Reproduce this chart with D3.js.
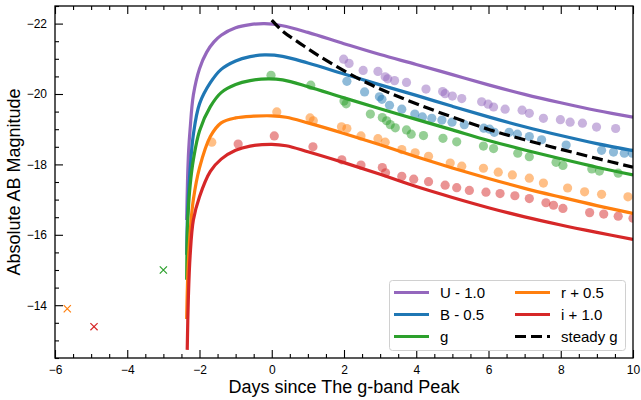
<!DOCTYPE html>
<html><head><meta charset="utf-8">
<script src="https://cdn.jsdelivr.net/npm/d3@7"></script>
<style>html,body{margin:0;padding:0;background:#fff;}svg{display:block;font-family:"Liberation Sans",Arial,sans-serif;}</style>
</head><body>
<script>
// ---------- data ----------
const bandLabels = ["U - 1.0","B - 0.5","g","r + 0.5","i + 1.0"];
const bandColors = ["#9467bd","#1f77b4","#2ca02c","#ff7f0e","#d62728"];

// model curves: [days, magnitude]
const modelU = [[-2.355,-16.42],[-2.33,-17.6],[-2.30,-18.4],[-2.26,-19.0],[-2.17,-19.97],[-2.0,-20.72],[-1.8,-21.19],[-1.6,-21.48],[-1.4,-21.67],[-1.0,-21.88],[-0.6,-21.97],[-0.2,-22.0],[0.3,-21.94],[1,-21.75],[2,-21.43],[3,-21.12],[4,-20.84],[5,-20.55],[6,-20.26],[7,-19.99],[8,-19.75],[9,-19.53],[10,-19.34]];
const modelB = [[-2.355,-15.43],[-2.34,-16.3],[-2.31,-17.05],[-2.26,-17.85],[-2.17,-18.85],[-2.0,-19.72],[-1.7,-20.32],[-1.4,-20.70],[-1.0,-20.94],[-0.6,-21.06],[-0.2,-21.11],[0.3,-21.07],[1,-20.88],[2,-20.57],[3,-20.26],[4,-19.96],[5,-19.65],[6,-19.35],[7,-19.07],[8,-18.82],[9,-18.59],[10,-18.39]];
const modelG = [[-2.355,-14.72],[-2.34,-15.9],[-2.31,-16.7],[-2.26,-17.4],[-2.17,-18.13],[-2.0,-18.95],[-1.7,-19.64],[-1.4,-20.04],[-1.0,-20.27],[-0.6,-20.38],[-0.1,-20.43],[0.3,-20.40],[1,-20.21],[2,-19.89],[3,-19.58],[4,-19.28],[5,-18.98],[6,-18.68],[7,-18.41],[8,-18.16],[9,-17.92],[10,-17.70]];
const modelR = [[-2.355,-13.61],[-2.33,-14.7],[-2.30,-15.4],[-2.25,-16.2],[-2.17,-17.0],[-2.0,-17.9],[-1.7,-18.79],[-1.4,-19.18],[-1.0,-19.32],[-0.5,-19.37],[0,-19.38],[0.4,-19.34],[1,-19.18],[2,-18.88],[3,-18.56],[4,-18.22],[5,-17.90],[6,-17.60],[7,-17.32],[8,-17.07],[9,-16.83],[10,-16.61]];
const modelI = [[-2.34,-12.73],[-2.31,-14.15],[-2.26,-15.4],[-2.17,-16.42],[-2.0,-17.08],[-1.7,-17.8],[-1.4,-18.15],[-1.0,-18.40],[-0.6,-18.52],[0,-18.57],[0.4,-18.53],[1,-18.36],[2,-18.05],[3,-17.72],[4,-17.37],[5,-17.06],[6,-16.77],[7,-16.51],[8,-16.28],[9,-16.07],[10,-15.87]];
const steadyG = [[0,-22.1],[0.32,-21.77],[0.78,-21.44],[1.34,-21.06],[2.63,-20.32],[4.11,-19.68],[6.05,-18.98],[7,-18.70],[8,-18.43],[9,-18.17],[10,-17.92]];

// observed photometry: [days, magnitude]
const obsU = [[1.99,-20.99],[2.14,-20.87],[2.53,-20.67],[2.94,-20.64],[3.14,-20.49],[3.21,-20.43],[3.40,-20.38],[3.73,-20.33],[4.27,-20.14],[4.73,-20.07],[4.80,-20.01],[5.00,-19.94],[5.26,-19.87],[5.81,-19.78],[5.99,-19.71],[6.14,-19.63],[6.46,-19.57],[6.93,-19.54],[7.13,-19.45],[7.52,-19.31],[7.99,-19.27],[8.26,-19.20],[8.60,-19.17],[8.99,-19.06],[9.52,-19.02]];
const obsB = [[2.08,-20.36],[2.57,-20.06],[2.98,-19.92],[3.05,-19.85],[3.26,-19.68],[3.60,-19.57],[3.96,-19.43],[4.17,-19.35],[4.43,-19.31],[4.71,-19.26],[4.99,-19.20],[5.33,-19.13],[5.87,-19.03],[6.03,-19.00],[6.16,-18.91],[6.57,-18.91],[6.80,-18.86],[7.13,-18.79],[7.47,-18.70],[8.15,-18.55],[9.13,-18.40],[9.46,-18.35],[9.76,-18.32],[9.98,-18.32]];
const obsG = [[-0.02,-20.53],[1.08,-20.25],[2.00,-19.80],[2.06,-19.72],[2.73,-19.43],[3.06,-19.33],[3.18,-19.24],[3.28,-19.13],[3.42,-19.04],[3.73,-18.98],[3.86,-18.86],[4.20,-18.82],[4.74,-18.74],[5.12,-18.64],[5.86,-18.52],[6.14,-18.45],[6.81,-18.32],[7.13,-18.22],[7.87,-18.06],[8.06,-17.97],[8.86,-17.87],[9.07,-17.81],[9.59,-17.75]];
const obsR = [[-1.66,-18.63],[0.14,-19.49],[1.06,-19.32],[1.15,-19.24],[1.93,-19.07],[2.08,-19.02],[2.47,-18.81],[2.94,-18.73],[3.14,-18.63],[3.60,-18.42],[3.97,-18.33],[4.34,-18.23],[4.94,-18.04],[5.26,-17.95],[5.86,-17.89],[6.27,-17.78],[6.66,-17.70],[7.13,-17.61],[7.52,-17.47],[8.19,-17.33],[8.66,-17.22],[9.13,-17.15],[9.86,-17.08]];
const obsI = [[-0.93,-18.58],[0.07,-18.81],[1.14,-18.50],[1.94,-18.13],[2.47,-17.98],[3.06,-17.91],[3.15,-17.76],[3.60,-17.66],[3.93,-17.58],[4.34,-17.51],[4.80,-17.41],[5.12,-17.34],[5.47,-17.26],[5.93,-17.21],[6.32,-17.17],[6.73,-17.11],[7.13,-17.03],[7.59,-16.91],[7.80,-16.84],[8.06,-16.75],[8.80,-16.63],[9.19,-16.59],[9.59,-16.53],[10.0,-16.47]];

// early limits (crosses): [days, magnitude, band index]
const limitPts = [[-5.66,-13.9,3],[-4.92,-13.39,4],[-3.0,-15.0,2]];

const xTicks = [-6,-4,-2,0,2,4,6,8,10];
const yTicks = [-22,-20,-18,-16,-14];

const models = [modelU, modelB, modelG, modelR, modelI];
const observed = [obsU, obsB, obsG, obsR, obsI];

// ---------- drawing ----------
const W = 641, H = 400;
const M = {left:55, right:8, top:6, bottom:42};
const svg = d3.select("body").append("svg").attr("width",W).attr("height",H);
const x = d3.scaleLinear().domain([-6,10]).range([M.left, W-M.right]);
const y = d3.scaleLinear().domain([-22.5,-12.5]).range([M.top, H-M.bottom]);

svg.append("defs").append("clipPath").attr("id","clip")
  .append("rect").attr("x",M.left).attr("y",M.top).attr("width",x(10)-M.left).attr("height",y(-12.5)-M.top);

const plot = svg.append("g").attr("clip-path","url(#clip)");

// observed dots
observed.forEach((arr,i)=>{
  plot.append("g").selectAll("circle").data(arr).join("circle")
    .attr("cx",d=>x(d[0])).attr("cy",d=>y(d[1])).attr("r",4.6)
    .attr("fill",bandColors[i]).attr("fill-opacity",0.5);
});

// crosses
limitPts.forEach(d=>{
  const cx=x(d[0]), cy=y(d[1]), s=3.6;
  plot.append("path").attr("d",`M${cx-s},${cy-s}L${cx+s},${cy+s}M${cx-s},${cy+s}L${cx+s},${cy-s}`)
    .attr("stroke",bandColors[d[2]]).attr("stroke-width",1.2).attr("fill","none");
});

const line = d3.line().x(d=>x(d[0])).y(d=>y(d[1])).curve(d3.curveCatmullRom.alpha(0.5));
models.forEach((arr,i)=>{
  plot.append("path").datum(arr).attr("d",line).attr("fill","none")
    .attr("stroke",bandColors[i]).attr("stroke-width",3.2);
});
plot.append("path").datum(steadyG).attr("d",line).attr("fill","none")
  .attr("stroke","#000").attr("stroke-width",3.2).attr("stroke-dasharray","11,5");

// axes
const fmt = d3.format("d");
const xMinor = d3.range(-6,10.01,0.5).filter(v=>Math.abs(v%2)>1e-6);
const yMinor = d3.range(-22.5,-12.49,0.5).filter(v=>Math.abs(v%2)>1e-6);

const gBottom = svg.append("g").attr("transform",`translate(0,${y(-12.5)})`);
gBottom.call(d3.axisBottom(x).tickValues(xTicks).tickFormat(fmt).tickSizeInner(-8).tickSizeOuter(0).tickPadding(7));
const gBottomMinor = svg.append("g").attr("transform",`translate(0,${y(-12.5)})`);
gBottomMinor.call(d3.axisBottom(x).tickValues(xMinor).tickFormat("").tickSizeInner(-4).tickSizeOuter(0));
const gTop = svg.append("g").attr("transform",`translate(0,${M.top})`);
gTop.call(d3.axisTop(x).tickValues(xTicks).tickFormat("").tickSizeInner(-8).tickSizeOuter(0));
const gTopMinor = svg.append("g").attr("transform",`translate(0,${M.top})`);
gTopMinor.call(d3.axisTop(x).tickValues(xMinor).tickFormat("").tickSizeInner(-4).tickSizeOuter(0));
const gLeft = svg.append("g").attr("transform",`translate(${M.left},0)`);
gLeft.call(d3.axisLeft(y).tickValues(yTicks).tickFormat(fmt).tickSizeInner(-8).tickSizeOuter(0).tickPadding(8));
const gLeftMinor = svg.append("g").attr("transform",`translate(${M.left},0)`);
gLeftMinor.call(d3.axisLeft(y).tickValues(yMinor).tickFormat("").tickSizeInner(-4).tickSizeOuter(0));

svg.selectAll(".domain").remove();
svg.selectAll(".tick line").attr("stroke","#000").attr("stroke-width",1.1);
svg.selectAll(".tick text").attr("font-size",12).attr("fill","#000")
  .attr("font-family","'Liberation Sans',Arial,sans-serif");

// frame
svg.append("rect").attr("x",M.left).attr("y",M.top).attr("width",x(10)-M.left).attr("height",y(-12.5)-M.top)
  .attr("fill","none").attr("stroke","#000").attr("stroke-width",1.3);

// axis titles
svg.append("text").attr("x",(x(-6)+x(10))/2).attr("y",393).attr("text-anchor","middle")
  .attr("font-size",18).text("Days since The g-band Peak");
svg.append("text").attr("transform",`translate(20,${(y(-22.5)+y(-12.5))/2}) rotate(-90)`)
  .attr("text-anchor","middle").attr("font-size",18).text("Absolute AB Magnitude");

// legend
const lg = svg.append("g");
lg.append("rect").attr("x",389.5).attr("y",280.5).attr("width",236).attr("height",70).attr("rx",3)
  .attr("fill","#fff").attr("fill-opacity",0.8).attr("stroke","#d0d0d0").attr("stroke-width",1);
const legItems = [
  {label:bandLabels[0],color:bandColors[0],col:0,row:0},
  {label:bandLabels[1],color:bandColors[1],col:0,row:1},
  {label:bandLabels[2],color:bandColors[2],col:0,row:2},
  {label:bandLabels[3],color:bandColors[3],col:1,row:0},
  {label:bandLabels[4],color:bandColors[4],col:1,row:1},
  {label:"steady g",color:"#000",col:1,row:2,dash:true}
];
legItems.forEach(it=>{
  const x0 = it.col===0 ? 394 : 515;
  const yy = 292.5 + it.row*22;
  lg.append("line").attr("x1",x0).attr("x2",x0+35).attr("y1",yy).attr("y2",yy)
    .attr("stroke",it.color).attr("stroke-width",3.2).attr("stroke-dasharray",it.dash?"11,5":null);
  lg.append("text").attr("x",x0+46).attr("y",yy+5.5).attr("font-size",15).text(it.label);
});
</script>
</body></html>
